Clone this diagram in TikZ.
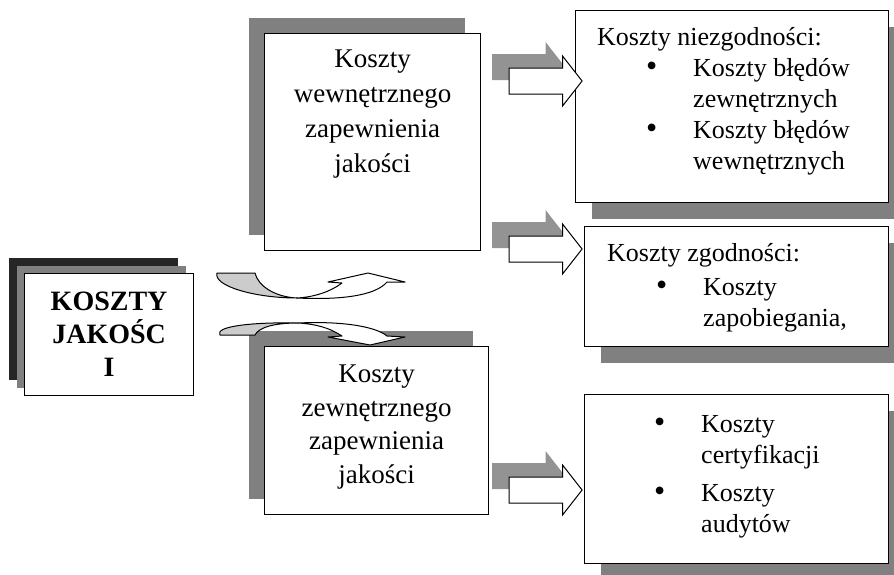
\documentclass[tikz,border=0pt]{standalone}
\usepackage{fontspec}
\setmainfont{Liberation Serif}
\usepackage{tikz}
\usetikzlibrary{positioning, calc, shadows, shapes.arrows}
\newcommand{\kropka}{\hspace*{49pt}\makebox[47pt][l]{\fontsize{32}{31}\selectfont\textbullet}}
\newcommand{\dalej}{\hspace*{96pt}}

\begin{document}
\begin{tikzpicture}[x=1pt, y=-1pt,
    pudlo/.style={draw, line width=1.2pt, fill=white, anchor=north west, inner sep=0pt},
    cien lewy/.style={general shadow={fill=gray, shadow xshift=-16pt, shadow yshift=16pt}},
    cien prawy/.style={general shadow={fill=gray, shadow xshift=16pt, shadow yshift=-16pt}},
    opis/.style={inner sep=0pt, align=center, anchor=north},
    lista/.style={inner sep=0pt, anchor=north west, align=left, font=\fontsize{26}{31}\selectfont},
    blok/.style={single arrow, draw, line width=1pt, fill=white, inner xsep=0pt, inner ysep=12.5pt,
      minimum height=73pt, single arrow head extend=12pt, single arrow tip angle=104,
      general shadow={fill=gray!85, shadow xshift=-17pt, shadow yshift=14pt}},
    wstega/.style={draw, line width=1pt, line join=round}]
\useasboundingbox (0,0) rectangle (894,574);
% lewa strona
\node[pudlo, minimum width=169pt, minimum height=122pt, align=center,
  font=\bfseries\fontsize{28}{33}\selectfont,
  general shadow={fill=black!85, shadow xshift=-16pt, shadow yshift=16pt},
  general shadow={fill=gray, shadow xshift=-8pt, shadow yshift=8pt}] (kj) at (24,273) {KOSZTY\\JAKOŚC\\I};
% srodek
\node[pudlo, cien lewy, minimum width=216pt, minimum height=217pt] (wew) at (264,33) {};
\node[pudlo, cien lewy, minimum width=224pt, minimum height=168pt] (zew) at (264,346) {};
\node[opis, font=\fontsize{27}{35}\selectfont] (wewt) at ($(wew.north)+(0,17)$) {Koszty\\wewnętrznego\\zapewnienia\\jakości};
\node[opis, font=\fontsize{27}{33.5}\selectfont] (zewt) at ($(zew.north)+(0,19)$) {Koszty\\zewnętrznego\\zapewnienia\\jakości};
% prawa strona
\node[pudlo, cien prawy, minimum width=313pt, minimum height=192pt] (nz) at (575,10) {};
\node[pudlo, cien prawy, minimum width=304pt, minimum height=120pt] (zg) at (584,226) {};
\node[pudlo, cien prawy, minimum width=304pt, minimum height=169pt] (ce) at (584,394) {};
\node[lista] (nzt) at ($(nz.north west)+(22,17)$) {Koszty niezgodności:\\
  \kropka Koszty błędów\\ \dalej zewnętrznych\\
  \kropka Koszty błędów\\ \dalej wewnętrznych};
\node[lista] (zgt) at ($(zg.north west)+(23,17)$) {Koszty zgodności:\\[3pt]
  \kropka Koszty\\ \dalej zapobiegania,};
\node[lista] (cet) at ($(ce.north west)+(21,21)$) {\kropka Koszty\\ \dalej certyfikacji\\[7pt]
  \kropka Koszty\\ \dalej audytów};
% strzalki blokowe
\node[blok] (s1) at (540.5,81) {};
\node[blok] (s2) at (540.5,249) {};
\node[blok] (s3) at (540.5,490) {};
% strzalki wygiete
\path[wstega, fill=gray!40] (217,273) -- (255,273) .. controls (258,286) and (275,297) .. (297,298)
  .. controls (255,298) and (213,286) .. (217,273) -- cycle;
\path[wstega, fill=white] (342,283) .. controls (330,292) and (314,297) .. (297,298)
  .. controls (340,300) and (375,296) .. (387,282) -- (405,282) -- (368,273) -- (328,282) -- cycle;
\path[wstega, fill=gray!40] (220,335) -- (255,335) .. controls (259,327) and (275,323) .. (298,323)
  .. controls (255,322) and (214,326) .. (220,335) -- cycle;
\path[wstega, fill=white] (342,336) .. controls (330,328) and (316,324) .. (298,323)
  .. controls (340,321) and (375,326) .. (387,336) -- (405,337) -- (370,345) -- (328,337) -- cycle;
\end{tikzpicture}
\end{document}
